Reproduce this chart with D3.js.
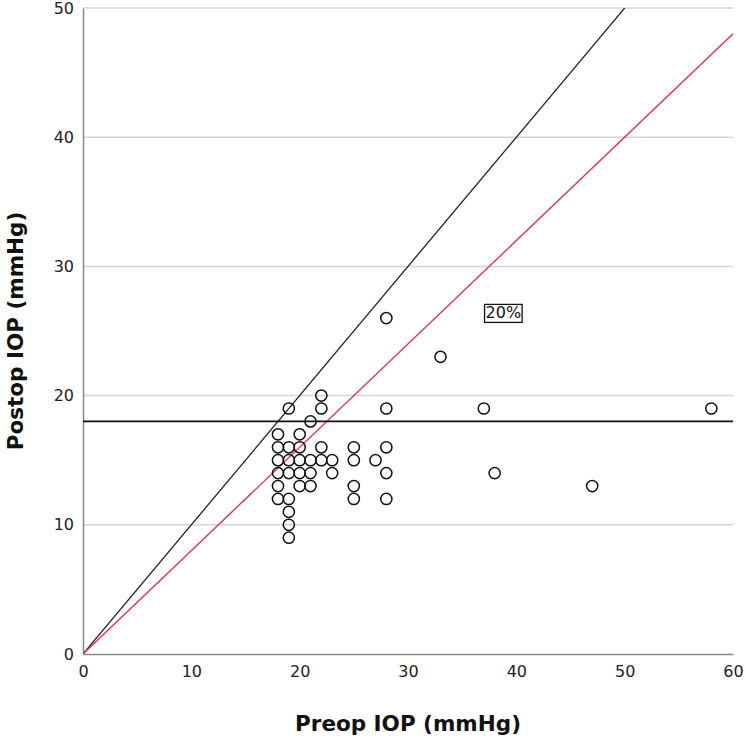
<!DOCTYPE html>
<html><head><meta charset="utf-8">
<script src="https://cdn.jsdelivr.net/npm/d3@7"></script>
<style>body{margin:0;background:#fff}svg{display:block}</style>
</head><body>
<script>
const xTicks=[0,10,20,30,40,50,60];
const yTicks=[0,10,20,30,40,50];
const preop=[18,20,19,22,22,21,28,37,58,28,33,
 18,19,20,22,25,28,
 18,19,20,21,22,23,25,27,
 18,19,20,21,23,28,38,
 18,20,21,25,47,
 18,19,25,28,
 19,19,19];
const postop=[17,17,19,19,20,18,19,19,19,26,23,
 16,16,16,16,16,16,
 15,15,15,15,15,15,15,15,
 14,14,14,14,14,14,14,
 13,13,13,13,13,
 12,12,12,12,
 11,10,9];
const refLineX=[0,60];
const identityY=[0,60];
const reduction20Y=[0,48];
const thresholdY=18;
const labelText="20%";
const labelPos=[38.8,26.4];

const W=746,H=742;
const x=d3.scaleLinear().domain([0,60]).range([83,733]);
const y=d3.scaleLinear().domain([0,50]).range([654,8]);
const svg=d3.select("body").append("svg").attr("width",W).attr("height",H);
const font="DejaVu Sans";

svg.append("g").selectAll("line").data(yTicks.filter(d=>d>0)).join("line")
 .attr("x1",x(0)).attr("x2",x(60)).attr("y1",d=>y(d)).attr("y2",d=>y(d))
 .attr("stroke","#d4d4d4").attr("stroke-width",1.5);

const xa=svg.append("g").attr("transform",`translate(0,${y(0)})`)
 .call(d3.axisBottom(x).tickValues(xTicks).tickSize(0).tickPadding(12));
const ya=svg.append("g").attr("transform",`translate(${x(0)},0)`)
 .call(d3.axisLeft(y).tickValues(yTicks).tickSize(0).tickPadding(9));
[xa,ya].forEach(a=>{a.select(".domain").attr("stroke","#888").attr("stroke-width",1.5);
 a.selectAll("text").attr("font-family",font).attr("font-size",16).attr("fill","#222");});

svg.append("clipPath").attr("id","c").append("rect")
 .attr("x",x(0)).attr("y",y(50)).attr("width",x(60)-x(0)).attr("height",y(0)-y(50));
const g=svg.append("g").attr("clip-path","url(#c)");
g.append("line").attr("x1",x(refLineX[0])).attr("y1",y(identityY[0]))
 .attr("x2",x(refLineX[1])).attr("y2",y(identityY[1])).attr("stroke","#222").attr("stroke-width",1.3);
g.append("line").attr("x1",x(refLineX[0])).attr("y1",y(reduction20Y[0]))
 .attr("x2",x(refLineX[1])).attr("y2",y(reduction20Y[1])).attr("stroke","#e5305c").attr("stroke-width",1.4);
svg.append("line").attr("x1",x(refLineX[0])).attr("x2",x(refLineX[1]))
 .attr("y1",y(thresholdY)).attr("y2",y(thresholdY)).attr("stroke","#111").attr("stroke-width",1.8);

svg.append("g").selectAll("circle").data(preop.map((d,i)=>[d,postop[i]])).join("circle")
 .attr("cx",d=>x(d[0])).attr("cy",d=>y(d[1])).attr("r",5.6)
 .attr("fill","none").attr("stroke","#111").attr("stroke-width",1.5);

const lg=svg.append("g");
const lr=lg.append("rect");
const lt=lg.append("text").attr("x",x(labelPos[0])).attr("y",y(labelPos[1]))
 .attr("text-anchor","middle").attr("dominant-baseline","central")
 .attr("font-family",font).attr("font-size",16).attr("fill","#111").text(labelText);
const bb=lt.node().getBBox();
lr.attr("x",bb.x-1).attr("y",bb.y+1).attr("width",bb.width+2).attr("height",bb.height-1)
 .attr("fill","#fff").attr("stroke","#111").attr("stroke-width",1.3);

svg.append("text").attr("x",408).attr("y",731).attr("text-anchor","middle")
 .attr("font-family",font).attr("font-weight","bold").attr("font-size",21.5).attr("fill","#111")
 .text("Preop IOP (mmHg)");
svg.append("text").attr("transform","translate(23,331) rotate(-90)").attr("text-anchor","middle")
 .attr("font-family",font).attr("font-weight","bold").attr("font-size",21.5).attr("fill","#111")
 .text("Postop IOP (mmHg)");
</script>
</body></html>
